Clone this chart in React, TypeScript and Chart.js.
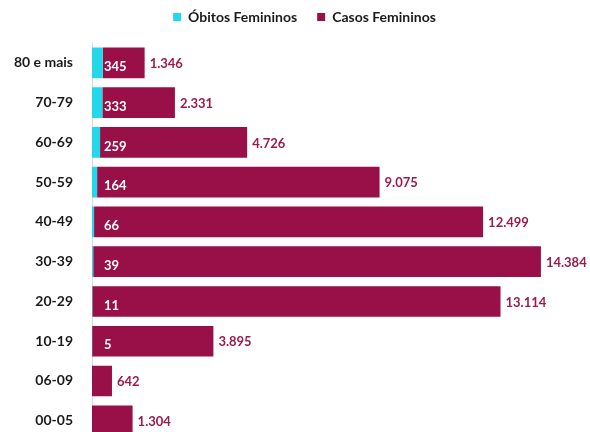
import React, { useEffect, useRef } from "react";
import { Chart, registerables } from "chart.js";

Chart.register(...registerables);

const categories = ["80 e mais", "70-79", "60-69", "50-59", "40-49", "30-39", "20-29", "10-19", "06-09", "00-05"];
const obitos = [345, 333, 259, 164, 66, 39, 11, 5, 0, 0];
const casos = [1346, 2331, 4726, 9075, 12499, 14384, 13114, 3895, 642, 1304];
const seriesNames = ["Óbitos Femininos", "Casos Femininos"];

const CYAN = "#22D8EA";
const MAROON = "#990F47";
const LABEL_MAROON = "#9B1B4D";
const FONT = "Lato, 'Open Sans', sans-serif";
const LEGEND_EXTRA = 9;

function fmt(n: number): string {
  return String(n).replace(/\B(?=(\d{3})+(?!\d))/g, ".");
}

const labelPlugin = {
  id: "valueLabels",
  beforeLayout(chart: any) {
    const lg = chart.legend;
    if (lg && !lg.__patched) {
      const orig = lg.fit.bind(lg);
      lg.fit = function () {
        orig();
        this.height += LEGEND_EXTRA;
      };
      lg.__patched = true;
    }
  },
  afterDatasetsDraw(chart: any) {
    const ctx = chart.ctx;
    const m0 = chart.getDatasetMeta(0);
    const m1 = chart.getDatasetMeta(1);
    ctx.save();
    ctx.font = `bold 13px ${FONT}`;
    ctx.textBaseline = "middle";
    ctx.textAlign = "left";
    m1.data.forEach((el: any, i: number) => {
      const o = obitos[i];
      if (o > 0) {
        const base = m0.data[i].base;
        ctx.fillStyle = "#ffffff";
        ctx.fillText(fmt(o), base + 12, el.y + 4);
      }
      ctx.fillStyle = LABEL_MAROON;
      ctx.fillText(fmt(casos[i]), el.x + 5, el.y + 1);
    });
    ctx.restore();
  },
};

export default function App() {
  const ref = useRef<HTMLCanvasElement | null>(null);
  useEffect(() => {
    if (!ref.current) return;
    const chart = new Chart(ref.current, {
      type: "bar",
      data: {
        labels: categories,
        datasets: [
          { label: seriesNames[0], data: obitos, backgroundColor: CYAN, borderWidth: 0 },
          { label: seriesNames[1], data: casos, backgroundColor: MAROON, borderWidth: 0 },
        ],
      },
      options: {
        indexAxis: "y",
        responsive: false,
        animation: false,
        devicePixelRatio: 1,
        layout: { padding: { top: -10, right: -19, left: 0, bottom: 10 } },
        datasets: { bar: { categoryPercentage: 1, barPercentage: 0.77 } } as any,
        scales: {
          x: {
            stacked: true,
            min: 0,
            max: 16000,
            display: false,
          },
          y: {
            stacked: true,
            grid: { display: false, drawTicks: false },
            border: { display: true, color: "#d9d9d9", width: 1 },
            ticks: {
              color: "#1a1a1a",
              font: { family: FONT, size: 14, weight: "bold" },
              padding: 19,
            },
            afterFit(scale: any) {
              scale.width = 92;
            },
          },
        },
        plugins: {
          legend: {
            position: "top",
            labels: {
              boxWidth: 8,
              boxHeight: 8,
              color: "#1a1a1a",
              padding: 20,
              font: { family: FONT, size: 14, weight: "bold" },
            },
          },
          tooltip: { enabled: false },
        },
      },
      plugins: [labelPlugin],
    });
    return () => chart.destroy();
  }, []);
  return (
    <div style={{ position: "fixed", left: 0, top: 0, width: 590, height: 432, overflow: "hidden", background: "#fff" }}>
      <canvas ref={ref} width={590} height={468} style={{ display: "block", width: 590, height: 468 }} />
    </div>
  );
}
